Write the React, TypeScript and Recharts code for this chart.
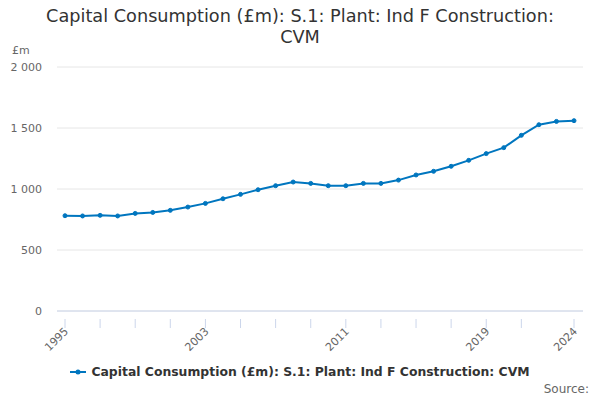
import React from 'react';
import { LineChart, Line, XAxis, YAxis, CartesianGrid, Legend } from 'recharts';

const years = [
  1995, 1996, 1997, 1998, 1999, 2000, 2001, 2002, 2003, 2004,
  2005, 2006, 2007, 2008, 2009, 2010, 2011, 2012, 2013, 2014,
  2015, 2016, 2017, 2018, 2019, 2020, 2021, 2022, 2023, 2024,
];
const values = [
  781, 779, 784, 779, 800, 808, 825, 852, 882, 920,
  956, 994, 1027, 1057, 1046, 1027, 1027, 1046, 1046, 1073,
  1115, 1145, 1186, 1235, 1290, 1339, 1440, 1527, 1554, 1560,
];
const xTicks = [1995, 1997, 1999, 2001, 2003, 2005, 2007, 2009, 2011, 2013, 2015, 2017, 2019, 2021, 2024];
const xLabels = [1995, 2003, 2011, 2019, 2024];
const yTicks = [0, 500, 1000, 1500, 2000];

const seriesName = 'Capital Consumption (£m): S.1: Plant: Ind F Construction: CVM';
const data = years.map((year, i) => ({ year, value: values[i] }));

const FONT = '"DejaVu Sans", sans-serif';
const BLUE = '#0076bf';

const XTick = (props: any) => {
  const { x, y, payload } = props;
  const show = xLabels.includes(payload.value);
  return (
    <g>
      <line x1={x} x2={x} y1={y} y2={y + 9} stroke="#ccd6eb" />
      {show && (
        <text
          transform={`translate(${x + 4},${y + 13}) rotate(-45)`}
          textAnchor="end"
          fontSize={11}
          fill="#666"
          fontFamily={FONT}
        >
          {payload.value}
        </text>
      )}
    </g>
  );
};

const LegendContent = () => (
  <div style={{ display: 'flex', justifyContent: 'center', alignItems: 'center', fontFamily: FONT }}>
    <svg width={16} height={10} style={{ marginRight: 5 }}>
      <line x1={0} x2={16} y1={5} y2={5} stroke={BLUE} strokeWidth={2} />
      <circle cx={8} cy={5} r={2.5} fill={BLUE} />
    </svg>
    <span style={{ fontSize: 12.4, fontWeight: 'bold', color: '#333' }}>{seriesName}</span>
  </div>
);

const fmt = (v: number) => String(v).replace(/\B(?=(\d{3})+(?!\d))/g, ' ');

export default function App() {
  return (
    <div style={{ position: 'absolute', left: 0, top: 0, width: 600, height: 400, background: '#fff', fontFamily: FONT }}>
      <div style={{ position: 'absolute', top: 6, left: 40, width: 520, textAlign: 'center', fontSize: 17.7, color: '#333', lineHeight: '21px' }}>
        {seriesName}
      </div>
      <div style={{ position: 'absolute', top: 44, left: 12, fontSize: 11, color: '#666' }}>£m</div>
      <div style={{ position: 'absolute', top: 382, right: 11, fontSize: 12, color: '#666' }}>Source:</div>
      <LineChart width={600} height={400} data={data} margin={{ top: 67, right: 17, bottom: 49, left: 12 }}>
        <CartesianGrid vertical={false} stroke="#e6e6e6" />
        <XAxis
          dataKey="year"
          type="number"
          domain={[1995, 2024]}
          ticks={xTicks}
          interval={0}
          padding={{ left: 8, right: 9 }}
          stroke="#ccd6eb"
          tickLine={false}
          tick={<XTick />}
          height={40}
        />
        <YAxis
          width={45}
          domain={[0, 2000]}
          ticks={yTicks}
          axisLine={false}
          tickLine={false}
          tickSize={0}
          tickMargin={15}
          tickFormatter={fmt}
          tick={{ fontSize: 11, fill: '#666', fontFamily: FONT }}
        />
        <Legend
          layout="horizontal"
          verticalAlign="middle"
          align="center"
          content={<LegendContent />}
          wrapperStyle={{ top: 364, left: 0, width: 600 }}
        />
        <Line
          type="linear"
          dataKey="value"
          name={seriesName}
          stroke={BLUE}
          strokeWidth={2}
          dot={{ r: 2, fill: BLUE, stroke: BLUE, strokeWidth: 1 }}
          isAnimationActive={false}
        />
      </LineChart>
    </div>
  );
}
